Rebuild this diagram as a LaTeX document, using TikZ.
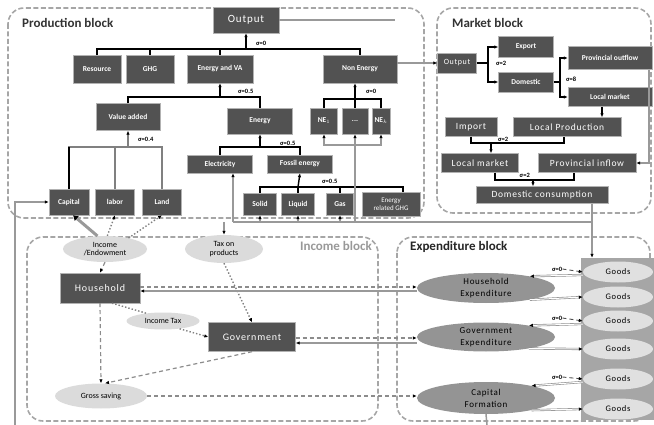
\documentclass[tikz,border=0pt]{standalone}
\usepackage{fontspec}
\setmainfont{Carlito}
\newfontfamily\spaced[LetterSpace=8]{Carlito}
\usetikzlibrary{arrows.meta, calc, shapes.geometric, positioning}

\tikzset{
  blk/.style={draw=black!35, line width=1.6pt, dash pattern=on 5pt off 2.5pt, rounded corners=16pt},
  blkname/.style={font=\bfseries\fontsize{13}{14}\selectfont, anchor=west, inner sep=0pt},
  dbox/.style={fill=black!68, draw=black!30, text=white, align=center, inner sep=1pt,
    font=\bfseries\fontsize{7.5}{8}\selectfont},
  wbox/.style={dbox, font=\spaced\fontsize{9.5}{10}\selectfont},
  lell/.style={ellipse, fill=black!14, inner sep=0pt, align=center, font=\fontsize{8}{8.5}\selectfont},
  gell/.style={ellipse, fill=black!42, inner sep=0pt, align=center, minimum width=138,
    font=\spaced\fontsize{9}{12}\selectfont},
  tree/.style={line width=1.4pt},
  feed/.style={draw=black!40, line width=1.5pt},
  tip/.style={-{Latex[length=4pt,width=3.5pt,color=black]}},
  sig/.style={inner sep=0pt, font=\bfseries\fontsize{6.5}{6.5}\selectfont},
  dots/.style={draw=black!50, line width=1.4pt, dotted},
  dsh/.style={draw=black!45, line width=1.2pt, dash pattern=on 4pt off 3pt},
  dbl/.style={draw=black!45, double, double distance=1pt, line width=0.6pt},
}

\begin{document}
\begin{tikzpicture}[x=1pt, y=-1pt]
\useasboundingbox (0,0) rectangle (654,425);
% Blocks
\draw[blk] (8,8) rectangle (424,218);
\draw[blk] (437,8) rectangle (651,213);
\draw[blk] (27,237) rectangle (378,421);
\draw[blk] (397,237) rectangle (650,421);
\node[blkname, black!80] at (22,23) {Production block};
\node[blkname, black!80] at (452,23) {Market block};
\node[blkname, black!40, anchor=east] at (372,246) {Income block};
\node[blkname, black!85] at (410,247) {Expenditure block};

% Production block
\node[dbox, minimum width=66, minimum height=26, font=\spaced\fontsize{11}{12}\selectfont] (out) at (246,20) {Output};
\node[dbox, minimum width=48, minimum height=28] (res) at (97,69) {Resource};
\node[dbox, minimum width=48, minimum height=28] (ghg) at (150,69) {GHG};
\node[dbox, minimum width=66, minimum height=28] (eva) at (220,69) {Energy and VA};
\node[dbox, minimum width=74, minimum height=28] (nen) at (360,69) {Non Energy};
\node[dbox, minimum width=64, minimum height=27] (va) at (128,117) {Value added};
\node[dbox, minimum width=65, minimum height=26] (en) at (260,121) {Energy};
\node[dbox, minimum width=27, minimum height=26] (ne1) at (324,121) {NE$_1$};
\node[dbox, minimum width=26, minimum height=26] (ned) at (355,121) {...};
\node[dbox, minimum width=18, minimum height=26] (nek) at (381,121) {NE$_k$};
\node[dbox, minimum width=40, minimum height=26] (cap) at (69,202) {Capital};
\node[dbox, minimum width=39, minimum height=26] (lab) at (115,202) {labor};
\node[dbox, minimum width=39, minimum height=26] (land) at (162,202) {Land};
\node[dbox, minimum width=65, minimum height=18] (ele) at (220,164) {Electricity};
\node[dbox, minimum width=65, minimum height=18] (fos) at (300,164) {Fossil energy};
\node[dbox, minimum width=33, minimum height=22] (sol) at (260,204) {Solid};
\node[dbox, minimum width=33, minimum height=22] (liq) at (298,204) {Liquid};
\node[dbox, minimum width=27, minimum height=22] (gas) at (340,204) {Gas};
\node[dbox, minimum width=58, minimum height=24, font=\fontsize{7}{8}\selectfont] (egh) at (391,204) {Energy\\related GHG};

% Nesting trees
\coordinate (t1) at (246,49);
\draw[tree] (res.north) |- (t1) -| (nen.north);
\foreach \n in {ghg,eva} \draw[tree] (\n.north) -- (\n.north |- t1);
\draw[tree,tip] (t1) -- (out.south);
\node[sig, anchor=west] at (256,43) {σ=0};
\coordinate (t2) at (220,97);
\draw[tree] (va.north) |- (t2) -| (en.north);
\draw[tree,tip] (t2) -- (eva.south);
\node[sig, anchor=west] at (238,91) {σ=0.5};
\coordinate (t3) at (355,99);
\draw[tree] (ne1.north) |- (t3) -| (nek.north);
\draw[tree] (ned.north) -- (t3);
\draw[tree,tip] (t3) -- (t3 |- nen.south);
\node[sig, anchor=west] at (366,91) {σ=0};
\coordinate (t4) at (128,147);
\draw[tree, black!50] (cap.north) |- (t4) -| (land.north);
\draw[tree] (cap.north) -- (cap.north |- t4);
\draw[tree, black!50] (lab.north) -- (lab.north |- t4);
\draw[tree, black!50, tip] (t4) -- (va.south);
\node[sig, anchor=west] at (138,139) {σ=0.4};
\coordinate (t5) at (260,147);
\draw[tree] (ele.north) |- (t5) -| (fos.north);
\draw[tree,tip] (t5) -- (en.south);
\node[sig, anchor=west] at (280,143) {σ=0.5};
\coordinate (t6) at (298,187);
\draw[tree] (sol.north) |- (t6) -| ([xshift=12]egh.north);
\foreach \n in {liq,gas} \draw[tree] (\n.north) -- (\n.north |- t6);
\draw[tree,tip] (t6) -- (fos.south);
\node[sig, anchor=west] at (322,181) {σ=0.5};

% Market block
\node[dbox, minimum width=39, minimum height=20, font=\spaced\fontsize{8}{9}\selectfont] (mout) at (457,63) {Output};
\node[dbox, minimum width=55, minimum height=21] (exp) at (526,47) {Export};
\node[dbox, minimum width=55, minimum height=20] (dom) at (526,82) {Domestic};
\node[dbox, minimum width=84, minimum height=23] (pout) at (610,58) {Provincial outflow};
\node[dbox, minimum width=84, minimum height=19] (lmk1) at (610,97) {Local market};
\node[wbox, minimum width=52, minimum height=19] (imp) at (471,127) {Import};
\node[wbox, minimum width=108, minimum height=19] (lpr) at (567,127) {Local Production};
\node[wbox, minimum width=77, minimum height=19] (lmk2) at (480,163) {Local market};
\node[wbox, minimum width=98, minimum height=19] (pin) at (587,163) {Provincial inflow};
\node[wbox, minimum width=132, minimum height=17] (dc) at (542,195) {Domestic consumption};

\coordinate (m1) at (488,63);
\draw[tree] (mout.east) -- (m1);
\draw[tree,tip] (m1) |- (exp.west);
\draw[tree,tip] (m1) |- (dom.west);
\node[sig, anchor=west] at (496,63) {σ=2};
\coordinate (m2) at (560,82);
\draw[tree] (dom.east) -- (m2);
\draw[tree,tip] (m2) |- (pout.west);
\draw[tree,tip] (m2) |- (lmk1.west);
\node[sig, anchor=west] at (566,79) {σ=8};
\draw[tree,tip] ([xshift=-8]lmk1.south) -- ([xshift=-8]lmk1.south |- lpr.north);
\coordinate (m3) at (491,143);
\draw[tree] (imp.south) |- (m3) -| ([xshift=-3]lpr.south);
\draw[tree,tip] (m3) -- (m3 |- lmk2.north);
\node[sig, anchor=west] at (498,139) {σ=2};
\draw[feed,tip] ([xshift=-3]pout.south east) |- (pin.east);
\coordinate (m4) at (533,180);
\draw[tree] ([xshift=15]lmk2.south) |- (m4) -| ([xshift=-13]pin.south);
\draw[tree,tip] (m4) -- (m4 |- dc.north);
\node[sig, anchor=east] at (530,175) {σ=2};

% Income block
\node[lell, minimum width=84, minimum height=26] (inc) at (105,249) {Income\\/Endowment};
\node[lell, minimum width=78, minimum height=28] (tax) at (224,249) {Tax on\\products};
\node[wbox, minimum width=80, minimum height=30, font=\spaced\fontsize{10}{11}\selectfont] (hh) at (100,288) {Household};
\node[lell, minimum width=73, minimum height=17] (itax) at (163,321) {Income Tax};
\node[wbox, minimum width=87, minimum height=29, font=\spaced\fontsize{10}{11}\selectfont] (gov) at (252,337) {Government};
\node[lell, minimum width=92, minimum height=25] (gsav) at (101,396) {Gross saving};

% Expenditure block
\node[gell, minimum height=30] (hexp) at (486,288) {Household\\Expenditure};
\node[gell, minimum height=29] (gexp) at (486,337) {Government\\Expenditure};
\node[gell, minimum height=32] (cform) at (486,398) {Capital\\Formation};
\node[fill=black!35, minimum width=73, minimum height=162, inner sep=0pt] (gcol) at (617.5,339) {};
\foreach \i/\y in {1/272, 2/297, 3/321, 4/349, 5/379, 6/409}
  \node[lell, fill=black!12, minimum width=70, minimum height=21, font=\spaced\fontsize{8.5}{9}\selectfont] (g\i) at (618,\y) {Goods};

% Intermediate inputs from domestic consumption
\coordinate (f0) at (592,222);
\coordinate (f1) at (233,222);
\coordinate (f2) at (355,145);
\draw[feed, tip] (dc.south -| f0) -- (gcol.north -| f0);
\draw[feed] (f0) -- (f1);
\draw[feed, tip] (f1) -- (f1 |- ele.south);
\foreach \n in {sol,liq,gas} \draw[feed, tip] (\n.south |- f1) -- (\n.south);
\draw[feed, tip] (ned.south |- f1) -- (ned.south);
\draw[feed, tip] (f2) -| (ne1.south);
\draw[feed, tip] (f2) -| (nek.south);
\draw[feed, tip] (tax.north |- f1) -- (tax.north);
\coordinate (oend) at (395,20);
\draw[feed] (out.east) -- (oend);
\draw[feed, tip] (mout.west -| nen.east) -- (mout.west);

% Capital accumulation
\coordinate (k0) at (15,425);
\coordinate (k1) at (487,425);
\draw[feed, tip] (k0) |- (cap.west);
\draw[feed] (cform.south) -- (k1);

% Income flows
\draw[line width=3pt, black!40, -{Latex[length=5pt,width=7pt,color=black]}] (inc.120) -- ([xshift=4]cap.south);
\draw[dots, tip] (inc.80) -- (lab.south);
\draw[dots, tip] (inc.25) -- (land.south);
\draw[dsh, tip] (inc.south) -- (hh.north);
\draw[dots, tip] (tax.south) -- (gov.north);
\draw[dots] ([xshift=12]hh.south) -- (itax.155);
\draw[dots, tip] (itax.-25) -- (gov.west);
\draw[dsh, tip] (hh.south) -- (gsav.north);
\draw[dsh, tip] (gov.south) -- ([xshift=4]gsav.north);
\draw[dsh, tip] (gsav.east) -- (gsav.east -| cform.west);
\draw[dsh, tip] ([yshift=1]hh.east) -- ([yshift=1]hh.east -| hexp.west);
\draw[feed, tip] ([yshift=-3]hh.east -| hexp.west) -- ([yshift=-3]hh.east);
\draw[dsh, tip] ([yshift=-1]gov.east) -- ([yshift=-1]gov.east -| gexp.west);
\draw[feed, tip] ([yshift=-6]gov.east -| gexp.west) -- ([yshift=-6]gov.east);

% Demand for goods
\foreach \e/\a/\b/\y in {hexp/g1/g2/269, gexp/g3/g4/318, cform/g5/g6/377} {
  \node[sig, anchor=west] (s\e) at (552,\y) {σ=0};
  \draw[dsh, black!70, line width=0.9pt, tip] (s\e.east) -- (\a.west);
  \draw[dbl, tip] ([yshift=-3]\a.west) -- (\e.15);
  \draw[dbl, tip] (\e.-15) -- (\b.west);
}
\end{tikzpicture}
\end{document}
